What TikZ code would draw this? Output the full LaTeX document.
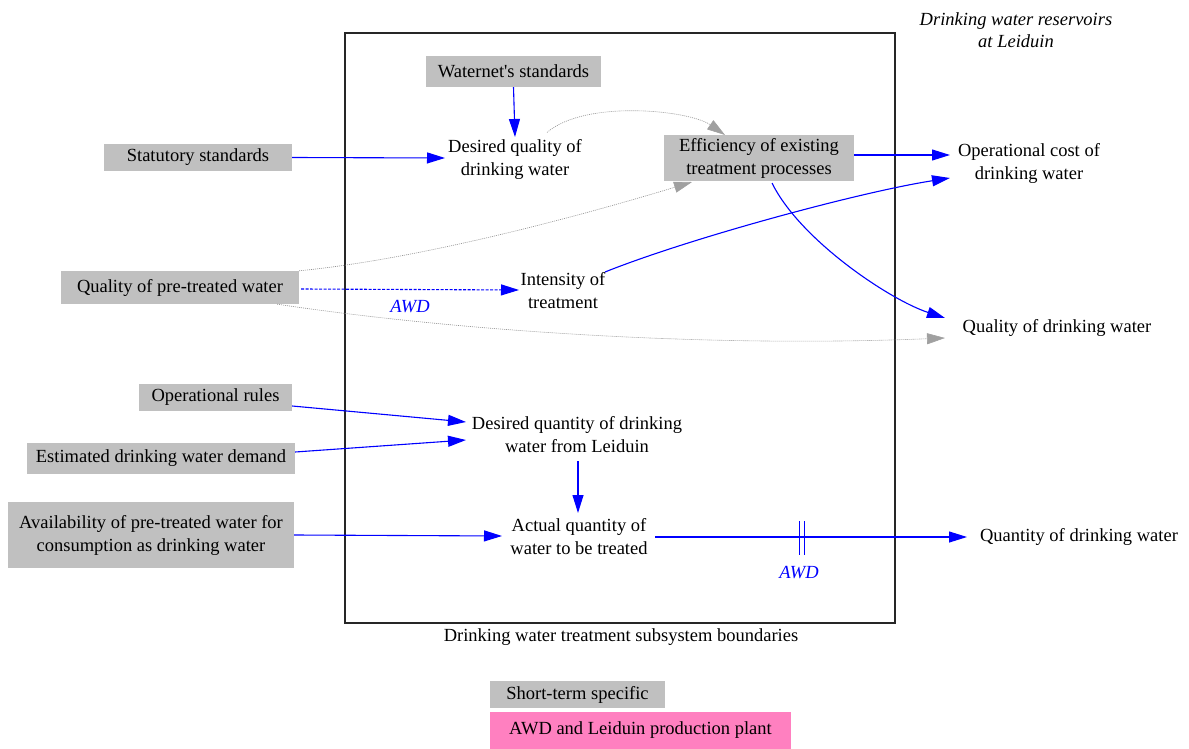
\documentclass[tikz,border=0pt]{standalone}
\usepackage{fontspec}
\setmainfont{Liberation Serif}
\newfontfamily\diagfont{Liberation Serif}
\usetikzlibrary{arrows.meta,calc}
\definecolor{boxgray}{HTML}{C0C0C0}
\definecolor{plantpink}{HTML}{FF80C0}
\definecolor{linkblue}{HTML}{0000FF}
\definecolor{tipgray}{HTML}{A0A0A0}
\definecolor{dotgray}{HTML}{909090}

\begin{document}
\begin{tikzpicture}[x=1pt,y=-1pt,
  txt/.style={font=\diagfont\fontsize{18.5}{23}\selectfont, align=center, inner sep=0pt, text=black},
  ext/.style={txt, fill=boxgray},
  lbl/.style={txt, font=\diagfont\fontsize{18.5}{23}\selectfont\itshape, text=linkblue},
  link/.style={draw=linkblue, line width=1.1pt, -{Triangle[length=18pt,width=11pt]}},
  delay/.style={link, dash pattern=on 3pt off 1.5pt},
  weak/.style={draw=dotgray, line width=0.6pt, dash pattern=on 1pt off 1pt,
    -{Triangle[length=18pt,width=11pt,color=tipgray]}}
]
\useasboundingbox (0,0) rectangle (1189,749);

% subsystem boundary and headings
\node[draw=black!85, line width=1.2pt, minimum width=550pt, minimum height=590pt, inner sep=0pt] (sub) at (620,328) {};
\node[txt] (subcap) at (621,637) {Drinking water treatment subsystem boundaries};
\node[txt, font=\diagfont\fontsize{18.5}{22}\selectfont\itshape] (res) at (1016,30) {Drinking water reservoirs\\at Leiduin};

% variables
\node[ext, minimum width=175pt, minimum height=31pt] (wn) at (513.5,71.5) {Waternet\textquotesingle s standards};
\node[txt] (dq) at (515,159.5) {Desired quality of\\drinking water};
\node[ext, minimum width=188pt, minimum height=27pt] (ss) at (198,157.5) {Statutory standards};
\node[ext, minimum width=190pt, minimum height=46pt] (eff) at (759,158) {Efficiency of existing\\treatment processes};
\node[txt] (opc) at (1029,163) {Operational cost of\\drinking water};
\node[ext, minimum width=238pt, minimum height=33pt] (qpt) at (180,287.5) {Quality of pre-treated water};
\node[txt] (int) at (563,291) {Intensity of\\treatment};
\node[txt] (qdw) at (1057,328) {Quality of drinking water};
\node[ext, minimum width=153pt, minimum height=27pt] (or) at (215.5,397.5) {Operational rules};
\node[ext, minimum width=268pt, minimum height=31pt] (edd) at (161,458.5) {Estimated drinking water demand};
\node[ext, minimum width=286pt, minimum height=66pt] (av) at (151,535) {Availability of pre-treated water for\\consumption as drinking water};
\node[txt] (dqn) at (577,435) {Desired quantity of drinking\\water from Leiduin};
\node[txt] (aq) at (579,537) {Actual quantity of\\water to be treated};
\node[txt] (qn) at (1079,537) {Quantity of drinking water};

% legend
\node[ext, minimum width=175pt, minimum height=27pt] (lg1) at (577.5,694.5) {Short-term specific};
\node[txt, fill=plantpink, minimum width=301pt, minimum height=37pt] (lg2) at (640.5,730.5) {AWD and Leiduin production plant};

% quality chain
\draw[link] (wn.south) -- ($(dq)+(0,-22.5)$);
\draw[link] (ss.east) -- ($(dq)+(-70,-1.5)$);
\draw[weak] ($(dq)+(32,-27)$) .. controls ($(dq)+(70,-60)$) and ($(eff)+(-70,-48)$) .. ($(eff)+(-34,-23)$);
\draw[weak] (qpt.north east) .. controls (430,258) and (600,210) .. ($(eff)+(-67,24)$);
\draw[weak] ($(qpt.south east)+(-22,0)$) .. controls (450,330) and (700,348) .. ($(qdw)+(-112,10)$);
\draw[delay] ($(qpt.east)+(2,1.5)$) -- ($(int)+(-44,-1)$);
\node[lbl] (awd1) at (410,307) {AWD};
\draw[link] ($(int)+(42,-19)$) .. controls (690,238) and (860,192) .. ($(opc)+(-79,15)$);
\draw[link] ($(eff.east)+(0,-3)$) -- ($(opc)+(-79,-8)$);
\draw[link] ($(eff)+(13,25)$) .. controls (800,240) and (890,300) .. ($(qdw)+(-112,-10)$);

% quantity chain
\draw[link] ($(or.east)+(0,8.5)$) -- ($(dqn)+(-111,-13)$);
\draw[link] ($(edd.east)+(0,-6.5)$) -- ($(dqn)+(-111,5)$);
\draw[link] ($(dqn)+(1,26)$) -- ($(aq)+(-1,-24)$);
\draw[link] (av.east) -- ($(aq)+(-77,-1)$);
\draw[link] ($(aq)+(76,0)$) -- coordinate[pos=0.471] (gap) ($(qn)+(-112,0)$);
\draw[draw=linkblue, line width=1.3pt] ($(gap)+(-2.3,-16)$) -- ++(0,34) ($(gap)+(2.3,-16)$) -- ++(0,34);
\node[lbl] (awd2) at (799,573) {AWD};
\end{tikzpicture}
\end{document}
